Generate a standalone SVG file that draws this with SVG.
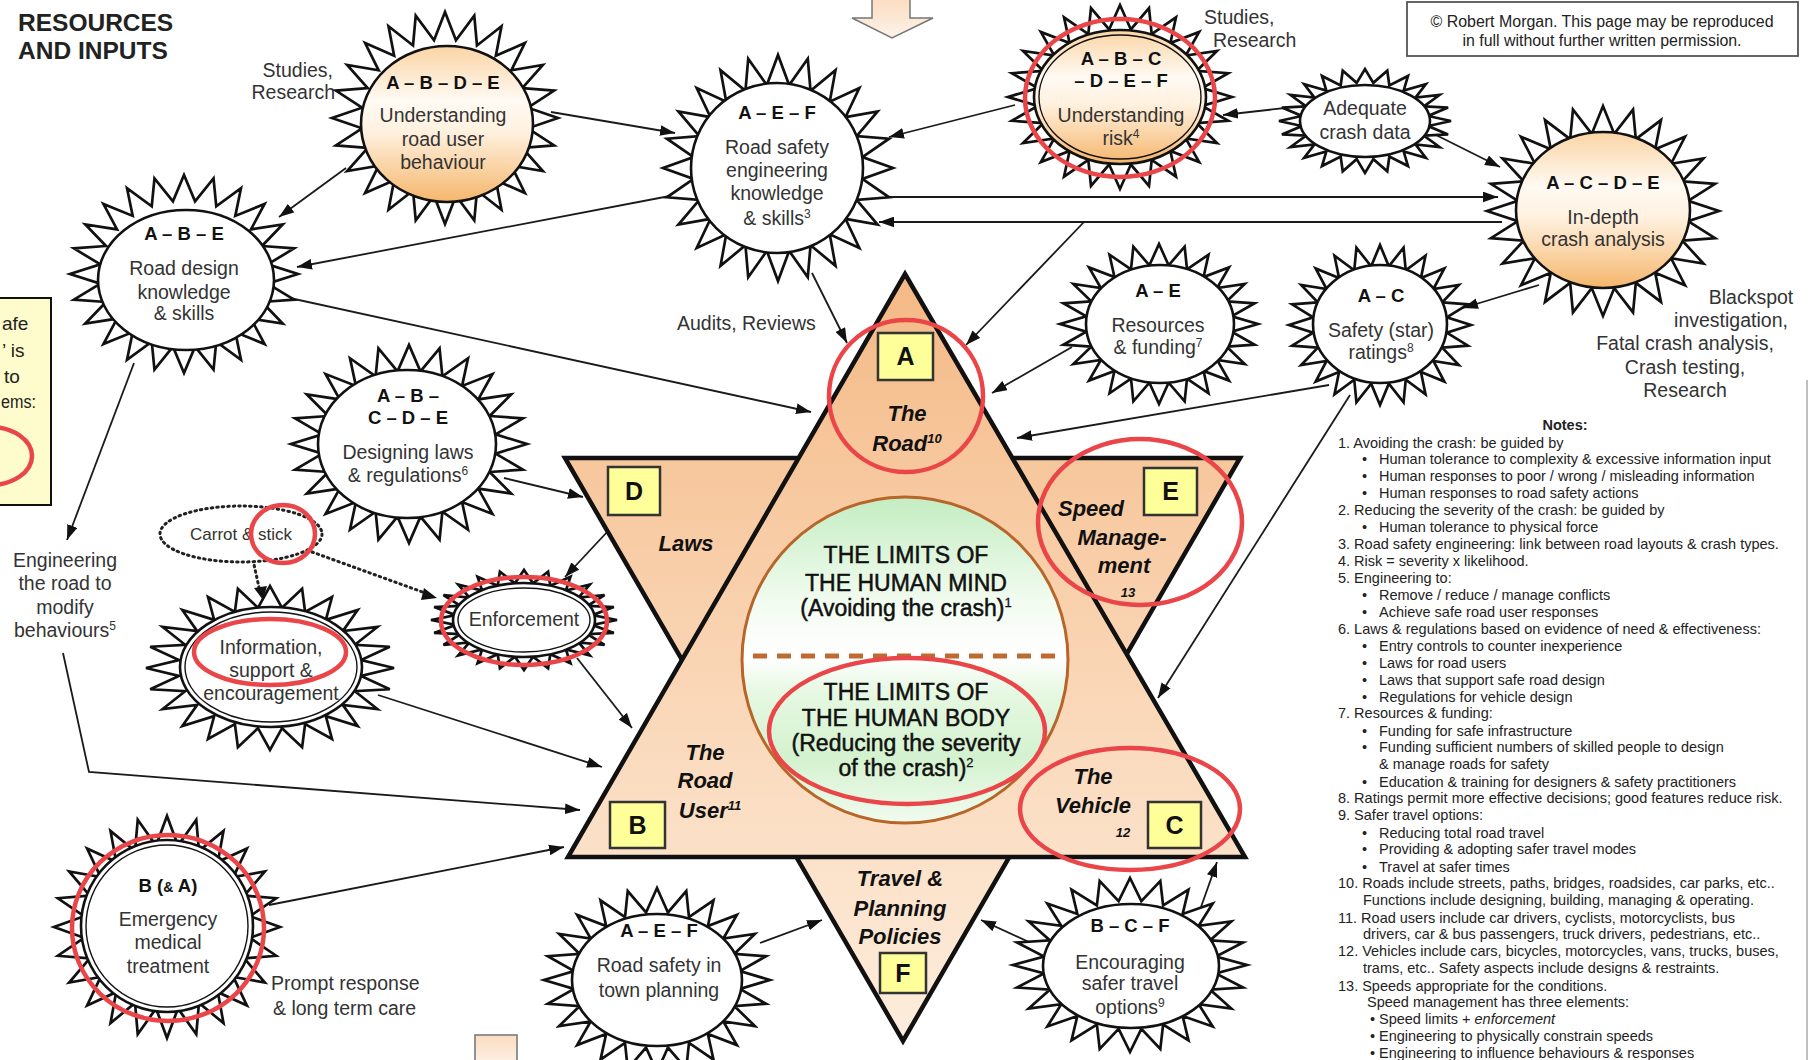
<svg xmlns="http://www.w3.org/2000/svg" xmlns:xlink="http://www.w3.org/1999/xlink" width="1811" height="1060" viewBox="0 0 1811 1060">
  <style>
    text { font-family: "Liberation Sans", Arial, sans-serif; }
    .ring { fill: #fff; stroke: #111; stroke-width: 2.6; }
    .ring2 { fill: none; stroke: #111; stroke-width: 1.4; }
    .warm { fill: url(#warmGrad); stroke: #111; stroke-width: 2.6; }
    .code { font-size: 18.5px; font-weight: bold; fill: #111; text-anchor: middle; }
    .lbl { font-size: 19.5px; fill: #333; text-anchor: middle; }
    .side { font-size: 19.5px; fill: #333; }
    .note { font-size: 14.5px; fill: #222; }
    .conn { fill: none; stroke: #1a1a1a; stroke-width: 1.8; marker-end: url(#ah); }
    .dots { fill: none; stroke: #222; stroke-width: 3; stroke-dasharray: 1.5 4; stroke-linecap: round; }
    .mark { fill: none; stroke: #ea4548; stroke-width: 4.5; }
    .box { fill: #ffff99; stroke: #333; stroke-width: 2.5; }
    .letter { font-size: 25px; font-weight: bold; fill: #111; text-anchor: middle; }
    .pt { font-size: 22px; font-weight: bold; font-style: italic; fill: #111; text-anchor: middle; }
    .ptsmall { font-size: 13px; font-weight: bold; font-style: italic; fill: #111; text-anchor: middle; }
    .big { font-size: 23px; fill: #111; stroke: #111; stroke-width: 0.5; text-anchor: middle; }
  </style>
  <defs>
    <!-- 24-point zigzag used behind every round node; scaled per node -->
    <polygon id="star" fill="#fff" stroke="#111" stroke-width="2.7" stroke-linejoin="miter" vector-effect="non-scaling-stroke"
      points="100,0 73.4,9.7 96.6,25.9 68.4,28.3 86.6,50 58.7,45 70.7,70.7 45,58.7 50,86.6 28.3,68.4 25.9,96.6 9.7,73.4 0,100 -9.7,73.4 -25.9,96.6 -28.3,68.4 -50,86.6 -45,58.7 -70.7,70.7 -58.7,45 -86.6,50 -68.4,28.3 -96.6,25.9 -73.4,9.7 -100,0 -73.4,-9.7 -96.6,-25.9 -68.4,-28.3 -86.6,-50 -58.7,-45 -70.7,-70.7 -45,-58.7 -50,-86.6 -28.3,-68.4 -25.9,-96.6 -9.7,-73.4 0,-100 9.7,-73.4 25.9,-96.6 28.3,-68.4 50,-86.6 45,-58.7 70.7,-70.7 58.7,-45 86.6,-50 68.4,-28.3 96.6,-25.9 73.4,-9.7"/>
    <marker id="ah" viewBox="0 0 14 10" refX="14" refY="5" markerWidth="15" markerHeight="11" markerUnits="userSpaceOnUse" orient="auto">
      <path d="M0,0 L14,5 L0,10 z" fill="#111"/>
    </marker>
    <linearGradient id="warmGrad" x1="0" y1="0" x2="0" y2="1">
      <stop offset="0" stop-color="#fbd4a4"/>
      <stop offset="0.35" stop-color="#fffaf3"/>
      <stop offset="0.55" stop-color="#fff1df"/>
      <stop offset="1" stop-color="#f5b66c"/>
    </linearGradient>
    <linearGradient id="starGrad" gradientUnits="userSpaceOnUse" x1="0" y1="274" x2="0" y2="1041">
      <stop offset="0" stop-color="#f4b985"/>
      <stop offset="0.45" stop-color="#f9d2af"/>
      <stop offset="1" stop-color="#fdeddd"/>
    </linearGradient>
    <linearGradient id="mindGrad" x1="0" y1="0" x2="0" y2="1">
      <stop offset="0" stop-color="#c4edc2"/>
      <stop offset="0.33" stop-color="#f3fcf1"/>
      <stop offset="0.49" stop-color="#ffffff"/>
      <stop offset="0.6" stop-color="#e6f8e2"/>
      <stop offset="0.8" stop-color="#d4f2cf"/>
      <stop offset="1" stop-color="#f1fbef"/>
    </linearGradient>
    <linearGradient id="peachGrad" x1="0" y1="0" x2="0" y2="1">
      <stop offset="0" stop-color="#fbdcc0"/>
      <stop offset="1" stop-color="#fdf3ea"/>
    </linearGradient>
  </defs>

  <rect width="1811" height="1060" fill="#fff"/>

  <!-- heading, notices and free labels -->
  <g id="heading">
    <text x="18" y="31" font-size="24.5" font-weight="bold" fill="#222">RESOURCES</text>
    <text x="18" y="59" font-size="24.5" font-weight="bold" fill="#222">AND INPUTS</text>
  </g>
  <polygon id="entry-arrow" points="872,-2 910,-2 910,18 933,18 892,38 852,18 872,18" fill="url(#peachGrad)" stroke="#777" stroke-width="1.5"/>
  <rect id="exit-box" x="475" y="1035" width="42" height="32" fill="url(#peachGrad)" stroke="#888" stroke-width="1.8"/>
  <line x1="1807" y1="380" x2="1807" y2="1060" stroke="#aaa" stroke-width="1.5"/>

  <g id="copyright">
    <rect x="1407" y="2" width="391" height="54" fill="#fff" stroke="#555" stroke-width="1.8"/>
    <text x="1602" y="27" font-size="16" fill="#222" text-anchor="middle" textLength="343" lengthAdjust="spacingAndGlyphs">© Robert Morgan. This page may be reproduced</text>
    <text x="1602" y="46" font-size="16" fill="#222" text-anchor="middle" textLength="279" lengthAdjust="spacingAndGlyphs">in full without further written permission.</text>
  </g>

  <g id="side-note">
    <rect x="-5" y="298" width="56" height="207" fill="#fefccc" stroke="#111" stroke-width="2"/>
    <text x="2" y="330" font-size="19" fill="#222">afe</text>
    <text x="2" y="357" font-size="19" fill="#222">’ is</text>
    <text x="4" y="383" font-size="19" fill="#222">to</text>
    <text x="1" y="408" font-size="18" fill="#222" textLength="35" lengthAdjust="spacingAndGlyphs">ems:</text>
  </g>

  <g id="labels">
    <text class="side" x="333" y="77" text-anchor="end">Studies,</text>
    <text class="side" x="335" y="99" text-anchor="end">Research</text>
    <text class="side" x="1204" y="24">Studies,</text>
    <text class="side" x="1213" y="47">Research</text>
    <text class="side" x="677" y="330">Audits, Reviews</text>
    <text class="lbl" x="1751" y="304">Blackspot</text>
    <text class="lbl" x="1731" y="327">investigation,</text>
    <text class="lbl" x="1685" y="350">Fatal crash analysis,</text>
    <text class="lbl" x="1685" y="374">Crash testing,</text>
    <text class="lbl" x="1685" y="397">Research</text>
    <text class="lbl" x="65" y="567">Engineering</text>
    <text class="lbl" x="65" y="590">the road to</text>
    <text class="lbl" x="65" y="614">modify</text>
    <text class="lbl" x="65" y="637">behaviours<tspan font-size="12" dy="-7">5</tspan></text>
    <text class="side" x="271" y="990">Prompt response</text>
    <text class="side" x="273" y="1015">&amp; long term care</text>
  </g>

  <!-- connectors -->
  <g id="connectors">
    <path class="conn" d="M551,112 L675,133"/>
    <path class="conn" d="M346,168 L279,217"/>
    <path class="conn" d="M675,195 L297,267"/>
    <path class="conn" d="M276,295 L811,412"/>
    <path class="conn" d="M1015,105 L889,137"/>
    <path class="conn" d="M1294,107 L1223,115"/>
    <path class="conn" d="M1436,135 L1500,167"/>
    <path class="conn" d="M877,197 L1498,197"/>
    <path class="conn" d="M1502,222 L879,222"/>
    <path class="conn" d="M1539,285 L1463,308"/>
    <path class="conn" d="M1084,222 L966,345"/>
    <path class="conn" d="M812,273 L847,343"/>
    <path class="conn" d="M1072,347 L992,393"/>
    <path class="conn" d="M1329,385 L1017,438"/>
    <path class="conn" d="M1350,395 L1158,698"/>
    <path class="conn" d="M504,478 L583,497"/>
    <path class="conn" d="M609,530 L565,577"/>
    <path class="conn" d="M577,658 L632,728"/>
    <path class="conn" d="M378,695 L602,767"/>
    <path class="conn" d="M134,363 L67,540"/>
    <path class="conn" d="M63,653 L89,772 L580,810"/>
    <path class="conn" d="M269,905 L564,847"/>
    <path class="conn" d="M760,943 L822,920"/>
    <path class="conn" d="M1031,943 L981,920"/>
    <path class="conn" d="M1201,907 L1217,862"/>
    <path class="dots" d="M253,560 L260,592"/>
    <path d="M254,588 L263,600 L267,586 z" fill="#111"/>
    <path class="dots" d="M312,552 L428,594"/>
    <path d="M424,588 L437,598 L421,600 z" fill="#111"/>
  </g>

  <!-- central hexagram -->
  <g id="hexagram">
    <polygon points="565,458 1240,458 903,1041" fill="url(#starGrad)" stroke="#111" stroke-width="4.5" stroke-linejoin="miter"/>
    <polygon points="905,274 1245,857 568,857" fill="url(#starGrad)" stroke="#111" stroke-width="4.5" stroke-linejoin="miter"/>
  </g>

  <g id="limits">
    <circle cx="905" cy="660" r="163" fill="url(#mindGrad)" stroke="#b8652a" stroke-width="3"/>
    <line x1="753" y1="656" x2="1059" y2="656" stroke="#c06a30" stroke-width="5" stroke-dasharray="14 10"/>
    <text class="big" x="906" y="563">THE LIMITS OF</text>
    <text class="big" x="906" y="591">THE HUMAN MIND</text>
    <text class="big" x="906" y="616">(Avoiding the crash)<tspan font-size="13" dy="-9" stroke-width="0.3">1</tspan></text>
    <text class="big" x="906" y="700">THE LIMITS OF</text>
    <text class="big" x="906" y="726">THE HUMAN BODY</text>
    <text class="big" x="906" y="751">(Reducing the severity</text>
    <text class="big" x="906" y="776">of the crash)<tspan font-size="13" dy="-9" stroke-width="0.3">2</tspan></text>
  </g>

  <g id="point-A">
    <rect class="box" x="878" y="333" width="55" height="47"/>
    <text class="letter" x="905.5" y="365">A</text>
    <text class="pt" x="907" y="421">The</text>
    <text class="pt" x="907" y="451">Road<tspan font-size="13" dy="-8">10</tspan></text>
  </g>
  <g id="point-D">
    <rect class="box" x="608" y="467" width="52" height="48"/>
    <text class="letter" x="634" y="500">D</text>
    <text class="pt" x="686" y="551">Laws</text>
  </g>
  <g id="point-E">
    <rect class="box" x="1144" y="468" width="53" height="47"/>
    <text class="letter" x="1170.5" y="500">E</text>
    <text class="pt" x="1091" y="516">Speed</text>
    <text class="pt" x="1122" y="545">Manage-</text>
    <text class="pt" x="1124" y="573">ment</text>
    <text class="ptsmall" x="1128" y="597">13</text>
  </g>
  <g id="point-B">
    <rect class="box" x="610" y="802" width="55" height="46"/>
    <text class="letter" x="637.5" y="834">B</text>
    <text class="pt" x="705" y="760">The</text>
    <text class="pt" x="705" y="788">Road</text>
    <text class="pt" x="710" y="818">User<tspan font-size="13" dy="-8">11</tspan></text>
  </g>
  <g id="point-C">
    <rect class="box" x="1148" y="802" width="53" height="46"/>
    <text class="letter" x="1174.5" y="834">C</text>
    <text class="pt" x="1093" y="784">The</text>
    <text class="pt" x="1093" y="813">Vehicle</text>
    <text class="ptsmall" x="1123" y="837">12</text>
  </g>
  <g id="point-F">
    <rect class="box" x="880" y="953" width="46" height="40"/>
    <text class="letter" x="903" y="982">F</text>
    <text class="pt" x="900" y="886">Travel &amp;</text>
    <text class="pt" x="900" y="916">Planning</text>
    <text class="pt" x="900" y="944">Policies</text>
  </g>

  <!-- resource nodes -->
  <g id="node-road-user-behaviour">
    <use xlink:href="#star" href="#star" transform="translate(445,118) scale(1.13,1.06)"/>
    <ellipse class="warm" cx="447" cy="124" rx="86" ry="78"/>
    <text class="code" x="443" y="89">A – B – D – E</text>
    <text class="lbl" x="443" y="122">Understanding</text>
    <text class="lbl" x="443" y="146">road user</text>
    <text class="lbl" x="443" y="169">behaviour</text>
  </g>

  <g id="node-road-design">
    <use xlink:href="#star" href="#star" transform="translate(184,274) scale(1.14,0.99)"/>
    <ellipse class="ring" cx="186" cy="280" rx="88" ry="70"/>
    <text class="code" x="184" y="240">A – B – E</text>
    <text class="lbl" x="184" y="275">Road design</text>
    <text class="lbl" x="184" y="299">knowledge</text>
    <text class="lbl" x="184" y="320">&amp; skills</text>
  </g>

  <g id="node-rs-engineering">
    <use xlink:href="#star" href="#star" transform="translate(778,168) scale(1.15,1.13)"/>
    <ellipse class="ring" cx="777" cy="168" rx="86" ry="85"/>
    <text class="code" x="777" y="119">A – E – F</text>
    <text class="lbl" x="777" y="154">Road safety</text>
    <text class="lbl" x="777" y="177">engineering</text>
    <text class="lbl" x="777" y="200">knowledge</text>
    <text class="lbl" x="777" y="225">&amp; skills<tspan font-size="12" dy="-7">3</tspan></text>
  </g>

  <g id="node-understanding-risk">
    <use xlink:href="#star" href="#star" transform="translate(1120,97) scale(1.12,0.92)"/>
    <ellipse class="warm" cx="1120" cy="97" rx="86" ry="67"/>
    <ellipse class="ring2" cx="1120" cy="97" rx="81" ry="62"/>
    <text class="code" x="1121" y="65">A – B – C</text>
    <text class="code" x="1121" y="87">– D – E – F</text>
    <text class="lbl" x="1121" y="122">Understanding</text>
    <text class="lbl" x="1121" y="145">risk<tspan font-size="12" dy="-7">4</tspan></text>
  </g>

  <g id="node-crash-data">
    <use xlink:href="#star" href="#star" transform="translate(1365,121) scale(0.86,0.52)"/>
    <ellipse class="ring" cx="1365" cy="121" rx="65" ry="36"/>
    <text class="lbl" x="1365" y="115">Adequate</text>
    <text class="lbl" x="1365" y="139">crash data</text>
  </g>

  <g id="node-crash-analysis">
    <use xlink:href="#star" href="#star" transform="translate(1603,211) scale(1.16,1.05)"/>
    <ellipse class="warm" cx="1603" cy="210" rx="87" ry="78"/>
    <text class="code" x="1603" y="189">A – C – D – E</text>
    <text class="lbl" x="1603" y="224">In-depth</text>
    <text class="lbl" x="1603" y="246">crash analysis</text>
  </g>

  <g id="node-resources">
    <use xlink:href="#star" href="#star" transform="translate(1159,324) scale(0.99,0.8)"/>
    <ellipse class="ring" cx="1160" cy="324" rx="74" ry="59"/>
    <text class="code" x="1158" y="297">A – E</text>
    <text class="lbl" x="1158" y="332">Resources</text>
    <text class="lbl" x="1158" y="354">&amp; funding<tspan font-size="12" dy="-7">7</tspan></text>
  </g>

  <g id="node-star-ratings">
    <use xlink:href="#star" href="#star" transform="translate(1380,325) scale(0.91,0.8)"/>
    <ellipse class="ring" cx="1380" cy="324" rx="67" ry="59"/>
    <text class="code" x="1381" y="302">A – C</text>
    <text class="lbl" x="1381" y="337">Safety (star)</text>
    <text class="lbl" x="1381" y="359">ratings<tspan font-size="12" dy="-7">8</tspan></text>
  </g>

  <g id="node-laws">
    <use xlink:href="#star" href="#star" transform="translate(409,444) scale(1.18,0.99)"/>
    <ellipse class="ring" cx="407" cy="444" rx="89" ry="74"/>
    <text class="code" x="408" y="402">A – B –</text>
    <text class="code" x="408" y="424">C – D – E</text>
    <text class="lbl" x="408" y="459">Designing laws</text>
    <text class="lbl" x="408" y="482">&amp; regulations<tspan font-size="12" dy="-7">6</tspan></text>
  </g>

  <g id="node-carrot-stick">
    <ellipse cx="241" cy="534" rx="81" ry="28" fill="#fff" stroke="#222" stroke-width="3" stroke-dasharray="1.5 4" stroke-linecap="round"/>
    <text x="241" y="540" font-size="17" fill="#333" text-anchor="middle">Carrot &amp; stick</text>
  </g>

  <g id="node-enforcement">
    <use xlink:href="#star" href="#star" transform="translate(524,620) scale(0.93,0.5)"/>
    <ellipse class="ring" cx="524" cy="620" rx="71" ry="37"/>
    <ellipse class="ring2" cx="524" cy="620" rx="66" ry="32"/>
    <text class="lbl" x="524" y="626">Enforcement</text>
  </g>

  <g id="node-information">
    <use xlink:href="#star" href="#star" transform="translate(270,668) scale(1.24,0.82)"/>
    <ellipse class="ring" cx="271" cy="667" rx="91" ry="60"/>
    <ellipse class="ring2" cx="271" cy="667" rx="86" ry="55"/>
    <text class="lbl" x="271" y="654">Information,</text>
    <text class="lbl" x="271" y="677">support &amp;</text>
    <text class="lbl" x="271" y="700">encouragement</text>
  </g>

  <g id="node-emergency">
    <use xlink:href="#star" href="#star" transform="translate(167,927) scale(1.13,1.11)"/>
    <ellipse class="ring" cx="167" cy="926" rx="86" ry="86"/>
    <ellipse class="ring2" cx="167" cy="926" rx="81" ry="81"/>
    <text class="code" x="168" y="892">B (<tspan font-size="14">&amp;</tspan> A)</text>
    <text class="lbl" x="168" y="926">Emergency</text>
    <text class="lbl" x="168" y="949">medical</text>
    <text class="lbl" x="168" y="973">treatment</text>
  </g>

  <g id="node-town-planning">
    <use xlink:href="#star" href="#star" transform="translate(657,980) scale(1.13,0.92)"/>
    <ellipse class="ring" cx="657" cy="980" rx="85" ry="66"/>
    <text class="code" x="659" y="937">A – E – F</text>
    <text class="lbl" x="659" y="972">Road safety in</text>
    <text class="lbl" x="659" y="997">town planning</text>
  </g>

  <g id="node-safer-travel">
    <use xlink:href="#star" href="#star" transform="translate(1130,965) scale(1.17,0.87)"/>
    <ellipse class="ring" cx="1131" cy="966" rx="88" ry="62"/>
    <text class="code" x="1130" y="932">B – C – F</text>
    <text class="lbl" x="1130" y="969">Encouraging</text>
    <text class="lbl" x="1130" y="990">safer travel</text>
    <text class="lbl" x="1130" y="1014">options<tspan font-size="12" dy="-7">9</tspan></text>
  </g>

  <!-- notes column -->
  <g id="notes" class="note">
    <text x="1565" y="430" font-weight="bold" text-anchor="middle">Notes:</text>
    <text x="1338" y="448">1. Avoiding the crash: be guided by</text>
    <text x="1362" y="464">•</text><text x="1379" y="464">Human tolerance to complexity &amp; excessive information input</text>
    <text x="1362" y="481">•</text><text x="1379" y="481">Human responses to poor / wrong / misleading information</text>
    <text x="1362" y="498">•</text><text x="1379" y="498">Human responses to road safety actions</text>
    <text x="1338" y="515">2. Reducing the severity of the crash: be guided by</text>
    <text x="1362" y="532">•</text><text x="1379" y="532">Human tolerance to physical force</text>
    <text x="1338" y="549">3. Road safety engineering: link between road layouts &amp; crash types.</text>
    <text x="1338" y="566">4. Risk = severity x likelihood.</text>
    <text x="1338" y="583">5. Engineering to:</text>
    <text x="1362" y="600">•</text><text x="1379" y="600">Remove / reduce / manage conflicts</text>
    <text x="1362" y="617">•</text><text x="1379" y="617">Achieve safe road user responses</text>
    <text x="1338" y="634">6. Laws &amp; regulations based on evidence of need &amp; effectiveness:</text>
    <text x="1362" y="651">•</text><text x="1379" y="651">Entry controls to counter inexperience</text>
    <text x="1362" y="668">•</text><text x="1379" y="668">Laws for road users</text>
    <text x="1362" y="685">•</text><text x="1379" y="685">Laws that support safe road design</text>
    <text x="1362" y="702">•</text><text x="1379" y="702">Regulations for vehicle design</text>
    <text x="1338" y="718">7. Resources &amp; funding:</text>
    <text x="1362" y="736">•</text><text x="1379" y="736">Funding for safe infrastructure</text>
    <text x="1362" y="752">•</text><text x="1379" y="752">Funding sufficient numbers of skilled people to design</text>
    <text x="1379" y="769">&amp; manage roads for safety</text>
    <text x="1362" y="787">•</text><text x="1379" y="787">Education &amp; training for designers &amp; safety practitioners</text>
    <text x="1338" y="803">8. Ratings permit more effective decisions; good features reduce risk.</text>
    <text x="1338" y="820">9. Safer travel options:</text>
    <text x="1362" y="838">•</text><text x="1379" y="838">Reducing total road travel</text>
    <text x="1362" y="854">•</text><text x="1379" y="854">Providing &amp; adopting safer travel modes</text>
    <text x="1362" y="872">•</text><text x="1379" y="872">Travel at safer times</text>
    <text x="1338" y="888">10. Roads include streets, paths, bridges, roadsides, car parks, etc..</text>
    <text x="1363" y="905">Functions include designing, building, managing &amp; operating.</text>
    <text x="1338" y="923">11. Road users include car drivers, cyclists, motorcyclists, bus</text>
    <text x="1363" y="939">drivers, car &amp; bus passengers, truck drivers, pedestrians, etc..</text>
    <text x="1338" y="956">12. Vehicles include cars, bicycles, motorcycles, vans, trucks, buses,</text>
    <text x="1363" y="973">trams, etc.. Safety aspects include designs &amp; restraints.</text>
    <text x="1338" y="991">13. Speeds appropriate for the conditions.</text>
    <text x="1367" y="1007">Speed management has three elements:</text>
    <text x="1370" y="1024">•</text><text x="1379" y="1024">Speed limits + <tspan font-style="italic">enforcement</tspan></text>
    <text x="1370" y="1041">•</text><text x="1379" y="1041">Engineering to physically constrain speeds</text>
    <text x="1370" y="1058">•</text><text x="1379" y="1058">Engineering to influence behaviours &amp; responses</text>
  </g>

  <!-- red highlight rings drawn over the artwork -->
  <g id="highlights">
    <ellipse class="mark" cx="1120" cy="98" rx="95" ry="79"/>
    <ellipse class="mark" cx="906" cy="396" rx="77" ry="76"/>
    <ellipse class="mark" cx="1140" cy="522" rx="102" ry="83"/>
    <ellipse class="mark" cx="283" cy="534" rx="32" ry="29"/>
    <ellipse class="mark" cx="524" cy="621" rx="83" ry="44"/>
    <ellipse class="mark" cx="270" cy="652" rx="76" ry="33"/>
    <ellipse class="mark" cx="907" cy="731" rx="138" ry="73"/>
    <ellipse class="mark" cx="1130" cy="809" rx="110" ry="61"/>
    <ellipse class="mark" cx="168" cy="928" rx="96" ry="93"/>
    <ellipse class="mark" cx="-10" cy="456" rx="42" ry="29"/>
  </g>
</svg>
